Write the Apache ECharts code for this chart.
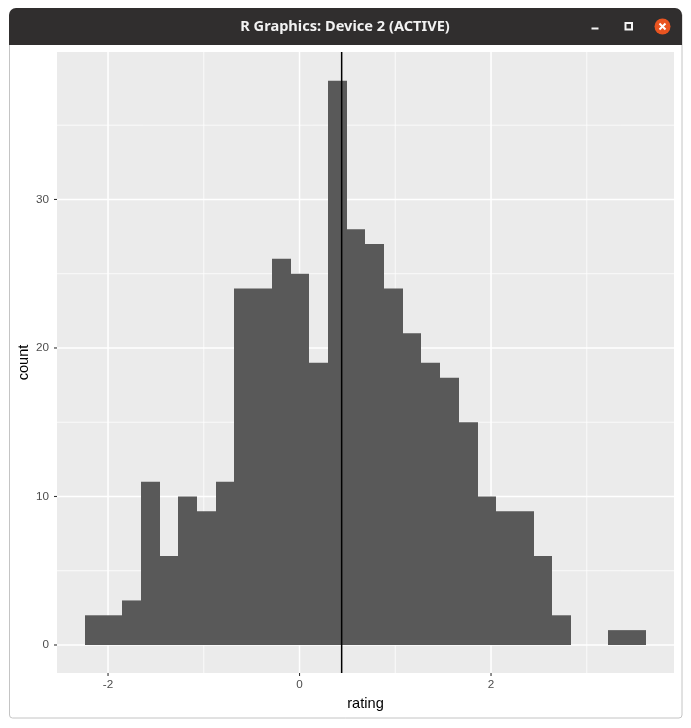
<!DOCTYPE html>
<html>
<head>
<meta charset="utf-8">
<style>html,body{margin:0;padding:0;background:#fff}#c{width:691px;height:728px}</style>
<script src="https://cdn.jsdelivr.net/npm/echarts@6/dist/echarts.min.js"></script>
</head>
<body>
<div id="c"></div>
<script>
const binEdges = [-2.240,-2.045,-1.849,-1.654,-1.459,-1.264,-1.068,-0.873,-0.678,-0.482,-0.287,-0.092,0.104,0.299,0.494,0.690,0.885,1.080,1.275,1.471,1.666,1.861,2.057,2.252,2.447,2.642,2.838,3.033,3.228,3.424,3.619];
const counts = [2,2,3,11,6,10,9,11,24,24,26,25,19,38,28,27,24,21,19,18,15,10,9,9,6,2,0,0,1,1];
const meanRating = [0.44];
const xTicks = [-2,0,2];
const yTicks = [0,10,20,30];
const xMinor = [-1,1,3];
const yMinor = [5,15,25,35];
const xRange = [-2.533,3.911];
const yRange = [-1.886,39.93];
const windowTitle = 'R Graphics: Device 2 (ACTIVE)';

const chart = echarts.init(document.getElementById('c'), null, {renderer:'canvas', width:691, height:728});
const histData = counts.map((c,i)=>[binEdges[i],binEdges[i+1],c]);

// full-panel rule (grid line or reference line) in data coordinates
function ruleSeries(values,isX,width,color,z){
  return {
    type:'custom',z:z,silent:true,data:values.map(v=>[v]),
    renderItem:(p,api)=>{
      const cs=p.coordSys, v=api.value(0);
      const c=api.coord(isX?[v,yRange[0]]:[xRange[0],v]);
      const shape=isX?{x1:c[0],y1:cs.y,x2:c[0],y2:cs.y+cs.height}
                     :{x1:cs.x,y1:c[1],x2:cs.x+cs.width,y2:c[1]};
      return {type:'line',shape:shape,style:{stroke:color,lineWidth:width}};
    }
  };
}
// short tick outside the panel
function tickSeries(values,isX){
  return {
    type:'custom',z:2,silent:true,data:values.map(v=>[v]),
    renderItem:(p,api)=>{
      const cs=p.coordSys, v=api.value(0);
      const c=api.coord(isX?[v,yRange[0]]:[xRange[0],v]);
      const shape=isX?{x1:c[0],y1:cs.y+cs.height,x2:c[0],y2:cs.y+cs.height+3}
                     :{x1:cs.x-3,y1:c[1],x2:cs.x,y2:c[1]};
      return {type:'line',shape:shape,style:{stroke:'#333',lineWidth:1.1}};
    }
  };
}
const axisBase = {
  axisLine:{show:false},
  splitLine:{show:false},
  axisTick:{show:false},
  nameLocation:'middle',
  nameTextStyle:{color:'#000',fontSize:14.6,fontFamily:'Liberation Sans'}
};
chart.setOption({
  animation:false,
  grid:{left:57,top:52,width:617,height:621,show:true,backgroundColor:'#ebebeb',borderWidth:0},
  xAxis:Object.assign({},axisBase,{
    type:'value',min:xRange[0],max:xRange[1],name:'rating',nameGap:23,
    axisLabel:{customValues:xTicks,color:'#4d4d4d',fontSize:11.7,fontFamily:'Liberation Sans',margin:6}
  }),
  yAxis:Object.assign({},axisBase,{
    type:'value',min:yRange[0],max:yRange[1],name:'count',nameGap:26,nameMoveOverlap:false,
    axisLabel:{customValues:yTicks,color:'#4d4d4d',fontSize:11.7,fontFamily:'Liberation Sans',margin:8,padding:[3,0,0,0]}
  }),
  graphic:[
    {type:'rect',z:-10,shape:{x:9.5,y:12,width:672.5,height:706,r:3},style:{fill:'#fff',stroke:'#c4c4c4',lineWidth:1}},
    {type:'rect',z:-9,shape:{x:9,y:8,width:673,height:37,r:[7,7,0,0]},style:{fill:'#302e2e'}},
    {type:'text',z:5,x:345,y:27,style:{text:windowTitle,fill:'#f2f2f2',font:'bold 14.6px "Noto Sans"',textAlign:'center',textVerticalAlign:'middle'}},
    {type:'rect',z:5,shape:{x:591.5,y:27.5,width:7,height:2},style:{fill:'#f5f5f5'}},
    {type:'rect',z:5,shape:{x:625.5,y:23,width:6.5,height:6.5},style:{fill:'none',stroke:'#f5f5f5',lineWidth:2}},
    {type:'circle',z:5,shape:{cx:662.5,cy:26.5,r:8},style:{fill:'#e95420'}},
    {type:'line',z:6,shape:{x1:659.5,y1:23.5,x2:665.5,y2:29.5},style:{stroke:'#fff',lineWidth:2}},
    {type:'line',z:6,shape:{x1:665.5,y1:23.5,x2:659.5,y2:29.5},style:{stroke:'#fff',lineWidth:2}}
  ],
  series:[
    ruleSeries(xMinor,true,0.75,'#fff',1),
    ruleSeries(yMinor,false,0.75,'#fff',1),
    ruleSeries(xTicks,true,1.5,'#fff',1),
    ruleSeries(yTicks,false,1.5,'#fff',1),
    tickSeries(xTicks,true),
    tickSeries(yTicks,false),
    {
      type:'custom',z:3,silent:true,
      encode:{x:[0,1],y:2},
      data:histData,
      renderItem:(params,api)=>{
        const a=api.coord([api.value(0),0]);
        const b=api.coord([api.value(1),api.value(2)]);
        const x0=Math.round(a[0]-0.2), x1=Math.round(b[0]-0.2);
        return {type:'rect',shape:{x:x0,y:b[1],width:x1-x0,height:a[1]-b[1]},style:{fill:'#595959'}};
      }
    },
    ruleSeries(meanRating,true,1.5,'#000',4)
  ]
});
</script>
</body>
</html>
